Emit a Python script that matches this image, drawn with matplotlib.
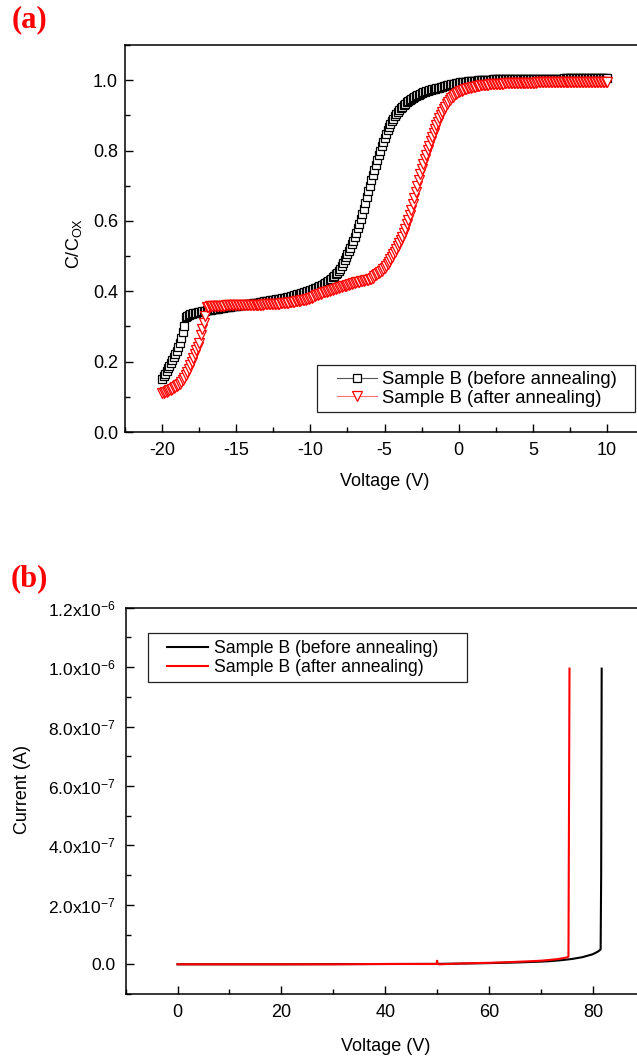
import numpy as np
import matplotlib
matplotlib.use("Agg")
import matplotlib.pyplot as plt
from matplotlib.patches import Rectangle
from matplotlib.ticker import MultipleLocator, FuncFormatter

plt.rcParams['font.family'] = ['Liberation Sans', 'DejaVu Sans']
plt.rcParams['mathtext.default'] = 'regular'
plt.rcParams['axes.unicode_minus'] = False

# ---------------------------------------------------------------------------
# (a) C-V data, 0.1 V steps from -20 V to 10 V
# ---------------------------------------------------------------------------
cv_voltage = np.round(np.arange(-200, 101) * 0.1, 1)

cv_before = [
    0.150, 0.158, 0.166, 0.174, 0.181, 0.188, 0.196, 0.204, 0.213, 0.222,  # -20.0
    0.231, 0.242, 0.254, 0.268, 0.285, 0.300, 0.328, 0.331, 0.333, 0.334,  # -19.0
    0.336, 0.337, 0.338, 0.339, 0.340, 0.341, 0.342, 0.343, 0.344, 0.345,  # -18.0
    0.346, 0.347, 0.347, 0.348, 0.349, 0.349, 0.350, 0.350, 0.351, 0.352,  # -17.0
    0.352, 0.353, 0.354, 0.354, 0.355, 0.356, 0.356, 0.357, 0.357, 0.358,  # -16.0
    0.359, 0.359, 0.360, 0.361, 0.361, 0.362, 0.362, 0.363, 0.364, 0.364,  # -15.0
    0.365, 0.366, 0.366, 0.367, 0.368, 0.368, 0.369, 0.370, 0.370, 0.371,  # -14.0
    0.372, 0.372, 0.373, 0.374, 0.374, 0.375, 0.376, 0.377, 0.377, 0.378,  # -13.0
    0.379, 0.380, 0.381, 0.382, 0.383, 0.384, 0.385, 0.386, 0.387, 0.388,  # -12.0
    0.390, 0.391, 0.392, 0.393, 0.395, 0.396, 0.397, 0.399, 0.400, 0.402,  # -11.0
    0.403, 0.405, 0.406, 0.408, 0.410, 0.412, 0.414, 0.416, 0.419, 0.421,  # -10.0
    0.424, 0.427, 0.430, 0.433, 0.436, 0.440, 0.444, 0.448, 0.453, 0.458,  # -9.0
    0.464, 0.471, 0.479, 0.488, 0.497, 0.506, 0.515, 0.524, 0.533, 0.543,  # -8.0
    0.554, 0.566, 0.579, 0.592, 0.606, 0.620, 0.635, 0.652, 0.668, 0.684,  # -7.0
    0.700, 0.715, 0.730, 0.744, 0.758, 0.772, 0.786, 0.799, 0.812, 0.825,  # -6.0
    0.837, 0.848, 0.858, 0.867, 0.876, 0.884, 0.891, 0.898, 0.904, 0.910,  # -5.0
    0.915, 0.920, 0.925, 0.929, 0.933, 0.937, 0.940, 0.943, 0.946, 0.949,  # -4.0
    0.952, 0.954, 0.957, 0.959, 0.961, 0.963, 0.965, 0.967, 0.968, 0.970,  # -3.0
    0.971, 0.972, 0.974, 0.975, 0.976, 0.977, 0.978, 0.979, 0.980, 0.981,  # -2.0
    0.983, 0.984, 0.985, 0.986, 0.987, 0.988, 0.989, 0.990, 0.991, 0.992,  # -1.0
    0.993, 0.994, 0.994, 0.995, 0.996, 0.996, 0.997, 0.997, 0.998, 0.998,  # 0.0
    0.999, 0.999, 0.999, 1.000, 1.000, 1.000, 1.000, 1.001, 1.001, 1.001,  # 1.0
    1.001, 1.001, 1.001, 1.002, 1.002, 1.002, 1.002, 1.002, 1.002, 1.002,  # 2.0
    1.002, 1.003, 1.003, 1.003, 1.003, 1.003, 1.003, 1.003, 1.003, 1.003,  # 3.0
    1.003, 1.003, 1.003, 1.003, 1.003, 1.004, 1.004, 1.004, 1.004, 1.004,  # 4.0
    1.004, 1.004, 1.004, 1.004, 1.004, 1.004, 1.004, 1.004, 1.004, 1.004,  # 5.0
    1.004, 1.004, 1.004, 1.004, 1.004, 1.004, 1.004, 1.004, 1.004, 1.004,  # 6.0
    1.004, 1.005, 1.005, 1.005, 1.005, 1.005, 1.005, 1.005, 1.005, 1.005,  # 7.0
    1.005, 1.005, 1.005, 1.005, 1.005, 1.005, 1.005, 1.005, 1.005, 1.005,  # 8.0
    1.005, 1.005, 1.005, 1.005, 1.005, 1.005, 1.005, 1.005, 1.005, 1.005,  # 9.0
    1.005,                                                                 # 10.0
]

cv_after = [
    0.110, 0.111, 0.113, 0.114, 0.116, 0.118, 0.120, 0.122, 0.124, 0.127,  # -20.0
    0.130, 0.133, 0.137, 0.141, 0.147, 0.154, 0.162, 0.170, 0.180, 0.191,  # -19.0
    0.200, 0.210, 0.221, 0.232, 0.243, 0.254, 0.275, 0.292, 0.310, 0.330,  # -18.0
    0.355, 0.356, 0.357, 0.357, 0.357, 0.358, 0.358, 0.358, 0.358, 0.359,  # -17.0
    0.359, 0.359, 0.359, 0.360, 0.360, 0.360, 0.360, 0.360, 0.360, 0.361,  # -16.0
    0.361, 0.361, 0.361, 0.361, 0.361, 0.361, 0.361, 0.361, 0.361, 0.361,  # -15.0
    0.361, 0.361, 0.361, 0.362, 0.362, 0.362, 0.362, 0.362, 0.362, 0.363,  # -14.0
    0.363, 0.363, 0.363, 0.364, 0.364, 0.364, 0.364, 0.365, 0.365, 0.365,  # -13.0
    0.366, 0.366, 0.367, 0.367, 0.368, 0.368, 0.369, 0.369, 0.370, 0.370,  # -12.0
    0.371, 0.372, 0.372, 0.373, 0.374, 0.375, 0.375, 0.376, 0.377, 0.378,  # -11.0
    0.380, 0.382, 0.384, 0.386, 0.388, 0.390, 0.392, 0.393, 0.395, 0.397,  # -10.0
    0.398, 0.399, 0.401, 0.402, 0.403, 0.405, 0.406, 0.407, 0.409, 0.410,  # -9.0
    0.411, 0.412, 0.414, 0.415, 0.416, 0.418, 0.419, 0.420, 0.422, 0.423,  # -8.0
    0.424, 0.425, 0.426, 0.427, 0.428, 0.429, 0.430, 0.431, 0.432, 0.433,  # -7.0
    0.434, 0.436, 0.439, 0.442, 0.446, 0.449, 0.452, 0.456, 0.459, 0.462,  # -6.0
    0.466, 0.471, 0.477, 0.484, 0.491, 0.498, 0.505, 0.512, 0.520, 0.528,  # -5.0
    0.536, 0.545, 0.555, 0.566, 0.578, 0.590, 0.603, 0.617, 0.632, 0.648,  # -4.0
    0.664, 0.682, 0.700, 0.717, 0.733, 0.748, 0.762, 0.775, 0.788, 0.801,  # -3.0
    0.814, 0.826, 0.838, 0.850, 0.861, 0.872, 0.882, 0.892, 0.901, 0.910,  # -2.0
    0.918, 0.925, 0.932, 0.938, 0.944, 0.949, 0.953, 0.957, 0.960, 0.963,  # -1.0
    0.966, 0.968, 0.970, 0.972, 0.974, 0.976, 0.977, 0.978, 0.979, 0.980,  # 0.0
    0.981, 0.982, 0.983, 0.983, 0.984, 0.985, 0.985, 0.986, 0.986, 0.987,  # 1.0
    0.987, 0.988, 0.988, 0.988, 0.989, 0.989, 0.989, 0.990, 0.990, 0.990,  # 2.0
    0.990, 0.991, 0.991, 0.991, 0.991, 0.992, 0.992, 0.992, 0.992, 0.992,  # 3.0
    0.993, 0.993, 0.993, 0.993, 0.993, 0.993, 0.993, 0.993, 0.993, 0.993,  # 4.0
    0.993, 0.993, 0.993, 0.994, 0.994, 0.994, 0.994, 0.994, 0.994, 0.994,  # 5.0
    0.994, 0.994, 0.994, 0.994, 0.994, 0.994, 0.994, 0.994, 0.994, 0.994,  # 6.0
    0.994, 0.995, 0.995, 0.995, 0.995, 0.995, 0.995, 0.995, 0.995, 0.995,  # 7.0
    0.995, 0.995, 0.995, 0.995, 0.995, 0.995, 0.995, 0.995, 0.995, 0.995,  # 8.0
    0.995, 0.995, 0.995, 0.995, 0.995, 0.996, 0.996, 0.996, 0.996, 0.996,  # 9.0
    0.996,                                                                 # 10.0
]

# ---------------------------------------------------------------------------
# (b) I-V data
# ---------------------------------------------------------------------------
iv_before_v = [0, 10, 20, 30, 40, 50, 55, 60, 65, 70, 72, 74, 76, 78, 80,
               81, 81.5, 81.6, 81.7]
iv_before_i = [0, 0, 0, 0.05e-8, 0.1e-8, 0.15e-8, 0.25e-8, 0.4e-8, 0.6e-8,
               0.9e-8, 1.1e-8, 1.4e-8, 1.8e-8, 2.4e-8, 3.4e-8, 4.3e-8,
               5.0e-8, 3.0e-7, 9.95e-7]

iv_after_v = [0, 10, 20, 30, 40, 49.9, 50.0, 50.1, 50.5, 55, 60, 65, 70, 73,
              75, 75.3, 75.4, 75.5]
iv_after_i = [0, 0, 0, 0, 0.1e-8, 0.1e-8, 1.2e-8, 0.1e-8, 0, 0.3e-8, 0.5e-8,
              0.8e-8, 1.2e-8, 1.7e-8, 2.3e-8, 2.6e-8, 5.0e-7, 9.95e-7]

label_before = "Sample B (before annealing)"
label_after = "Sample B (after annealing)"

# ---------------------------------------------------------------------------
W, H = 637, 1056
fig = plt.figure(figsize=(W / 100, H / 100), dpi=100)
ax1 = fig.add_axes([0.1962, 0.5909, 0.815, 0.3665])
ax2 = fig.add_axes([0.1972, 0.0587, 0.815, 0.3658])


def px_box(x0, y0, x1, y1):
    # pixel box (top-left origin) -> figure fraction rectangle
    return (x0 / W, 1 - y1 / H, (x1 - x0) / W, (y1 - y0) / H)


def style_axis(ax, ypad):
    for s in ax.spines.values():
        s.set_linewidth(1.1)
    ax.tick_params(which='both', direction='in', width=1.0, labelsize=13,
                   top=False, right=False)
    ax.tick_params(which='major', length=6)
    ax.tick_params(which='minor', length=3.5)
    ax.tick_params(axis='x', pad=7)
    ax.tick_params(axis='y', pad=ypad)


def framed_legend(ax, box, anchor, fontsize, handlelength):
    leg = ax.legend(loc='center left', bbox_to_anchor=anchor,
                    bbox_transform=fig.transFigure, fontsize=fontsize,
                    frameon=False, borderaxespad=0, borderpad=0,
                    handlelength=handlelength, handletextpad=0.3,
                    labelspacing=0.08)
    x, y, w, h = px_box(*box)
    fig.patches.append(Rectangle((x, y), w, h, transform=fig.transFigure,
                                 fill=False, edgecolor='#222222', lw=0.9))
    return leg


# --- panel (a)
ax1.plot(cv_voltage, cv_before, color='#555555', lw=0.8, marker='s', ms=6,
         mfc='white', mec='black', mew=0.9, label=label_before)
ax1.plot(cv_voltage, cv_after, color='#ff7070', lw=0.8, marker='v', ms=7,
         mfc='white', mec='red', mew=0.9, label=label_after)
ax1.set_xlim(-22.5, 12.5)
ax1.set_ylim(0, 1.1)
ax1.xaxis.set_major_locator(MultipleLocator(5))
ax1.xaxis.set_minor_locator(MultipleLocator(2.5))
ax1.yaxis.set_major_locator(MultipleLocator(0.2))
ax1.yaxis.set_minor_locator(MultipleLocator(0.1))
ax1.yaxis.set_major_formatter(FuncFormatter(lambda v, p: f"{v:.1f}"))
style_axis(ax1, 5)
ax1.set_xlabel("Voltage (V)", fontsize=13)
ax1.set_ylabel("C/C$_{OX}$", fontsize=13)
ax1.xaxis.set_label_coords(0.5, -0.105)
ax1.yaxis.set_label_coords(-0.078, 0.487)
framed_legend(ax1, (317, 365, 635, 412), (337 / W, 1 - 389 / H), 13.3, 2.15)

# --- panel (b)
ax2.plot(iv_before_v, iv_before_i, color='black', lw=1.5, label=label_before)
ax2.plot(iv_after_v, iv_after_i, color='red', lw=1.5, label=label_after)
ax2.set_xlim(-10, 90)
ax2.set_ylim(-1e-7, 1.2e-6)
ax2.xaxis.set_major_locator(MultipleLocator(20))
ax2.xaxis.set_minor_locator(MultipleLocator(10))
ax2.yaxis.set_major_locator(MultipleLocator(2e-7))
ax2.yaxis.set_minor_locator(MultipleLocator(1e-7))


def sci_fmt(v, pos):
    if abs(v) < 1e-12:
        return "0.0"
    exp = int(np.floor(np.log10(abs(v)) + 1e-9))
    mant = v / 10 ** exp
    return f"{mant:.1f}x10$^{{{exp}}}$"


ax2.yaxis.set_major_formatter(FuncFormatter(sci_fmt))
style_axis(ax2, 7)
ax2.tick_params(axis='y', labelsize=12.5)
ax2.set_xlabel("Voltage (V)", fontsize=13)
ax2.set_ylabel("Current (A)", fontsize=13)
ax2.xaxis.set_label_coords(0.5, -0.115)
ax2.yaxis.set_label_coords(-0.182, 0.53)
framed_legend(ax2, (148, 633, 467, 682), (167 / W, 1 - 658 / H), 12.7, 2.35)

# panel letters
fig.text(0.018, 0.995, "(a)", color='red', fontsize=22, fontweight='bold',
         family='Liberation Serif', va='top', ha='left')
fig.text(0.016, 0.466, "(b)", color='red', fontsize=22, fontweight='bold',
         family='Liberation Serif', va='top', ha='left')

fig.savefig("out.png", dpi=100)
